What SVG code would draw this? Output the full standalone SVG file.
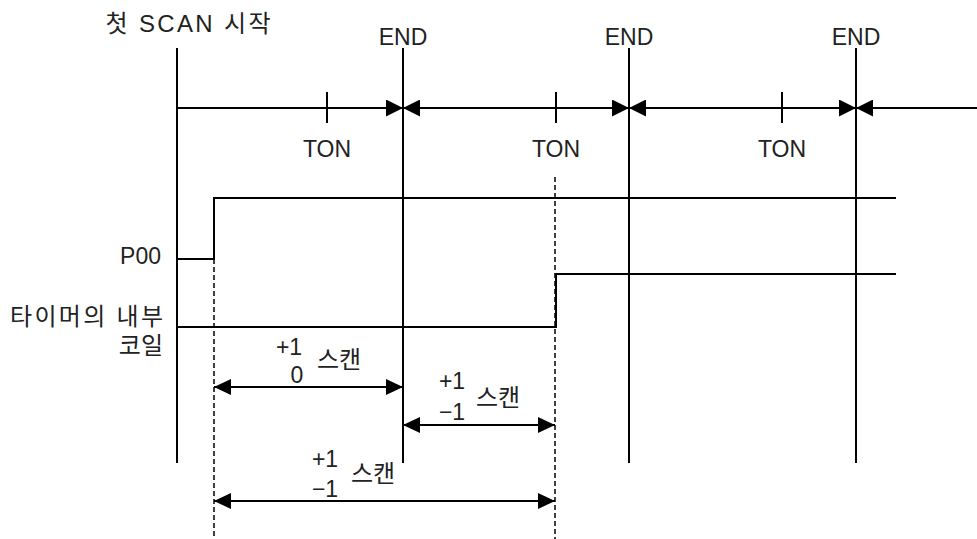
<svg xmlns="http://www.w3.org/2000/svg" width="977" height="539" viewBox="0 0 977 539">
<style>
.t{font-family:"Liberation Sans","Noto Sans CJK KR",sans-serif;font-size:23px;fill:#222}
.k{font-size:24px}
.m{text-anchor:middle}
.e{text-anchor:end}
.ln{stroke:#000;stroke-width:2;fill:none}
.sg{stroke:#000;stroke-width:2;fill:none}
.ds{stroke:#000;stroke-width:1.5;stroke-dasharray:5,3;fill:none}
.ar{stroke:#000;stroke-width:2;fill:none}
</style>
<defs>
<marker id="ah" markerUnits="userSpaceOnUse" markerWidth="17" markerHeight="17" refX="17" refY="8.5" orient="auto-start-reverse">
<path d="M0,0 L17,8.5 L0,17 z" fill="#000"/>
</marker>
<marker id="ah2" markerUnits="userSpaceOnUse" markerWidth="17" markerHeight="16" refX="17" refY="8" orient="auto-start-reverse">
<path d="M0,0 L17,8 L0,16 z" fill="#000"/>
</marker>
</defs>
<g id="labels">
<text class="t k m" x="188" y="32" textLength="165" lengthAdjust="spacing">첫 SCAN 시작</text>
<text class="t m" x="403" y="45">END</text>
<text class="t m" x="629" y="45">END</text>
<text class="t m" x="856" y="45">END</text>
<text class="t m" x="327" y="157">TON</text>
<text class="t m" x="556" y="157">TON</text>
<text class="t m" x="782" y="157">TON</text>
<text class="t e" x="161" y="264">P00</text>
<text class="t k" x="10" y="325" textLength="153" lengthAdjust="spacing">타이머의 내부</text>
<text class="t k e" x="163" y="354">코일</text>
</g>
<g id="axes">
<line class="ln" x1="177" y1="48" x2="177" y2="463"/>
<line class="ln" x1="403" y1="48" x2="403" y2="463"/>
<line class="ln" x1="629" y1="48" x2="629" y2="463"/>
<line class="ln" x1="856" y1="48" x2="856" y2="463"/>
<line class="ln" x1="327" y1="92" x2="327" y2="123"/>
<line class="ln" x1="556" y1="92" x2="556" y2="123"/>
<line class="ln" x1="782" y1="92" x2="782" y2="123"/>
</g>
<g id="connectors">
<line class="ar" x1="177" y1="108" x2="403" y2="108" marker-end="url(#ah)"/>
<line class="ar" x1="403" y1="108" x2="629" y2="108" marker-start="url(#ah)" marker-end="url(#ah)"/>
<line class="ar" x1="629" y1="108" x2="856" y2="108" marker-start="url(#ah)" marker-end="url(#ah)"/>
<line class="ar" x1="856" y1="108" x2="977" y2="108" marker-start="url(#ah)"/>
<line class="ar" x1="214" y1="387" x2="403" y2="387" marker-start="url(#ah2)" marker-end="url(#ah2)"/>
<line class="ar" x1="403" y1="425" x2="555" y2="425" marker-start="url(#ah2)" marker-end="url(#ah2)"/>
<line class="ar" x1="214" y1="501" x2="555" y2="501" marker-start="url(#ah2)" marker-end="url(#ah2)"/>
</g>
<g id="signals">
<polyline class="sg" points="177,259 214,259 214,198 896,198"/>
<polyline class="sg" points="177,327 556,327 556,274 896,274"/>
<line class="ds" x1="214" y1="259" x2="214" y2="539"/>
<line class="ds" x1="555" y1="177" x2="555" y2="539"/>
</g>
<g id="dimlabels">
<text class="t m" x="289" y="355">+1</text>
<text class="t m" x="297" y="383">0</text>
<text class="t k" x="317" y="368">스캔</text>
<text class="t m" x="452" y="389">+1</text>
<text class="t m" x="452" y="420">−1</text>
<text class="t k" x="476" y="406">스캔</text>
<text class="t m" x="325" y="467">+1</text>
<text class="t m" x="325" y="497">−1</text>
<text class="t k" x="351" y="482">스캔</text>
</g>
</svg>
